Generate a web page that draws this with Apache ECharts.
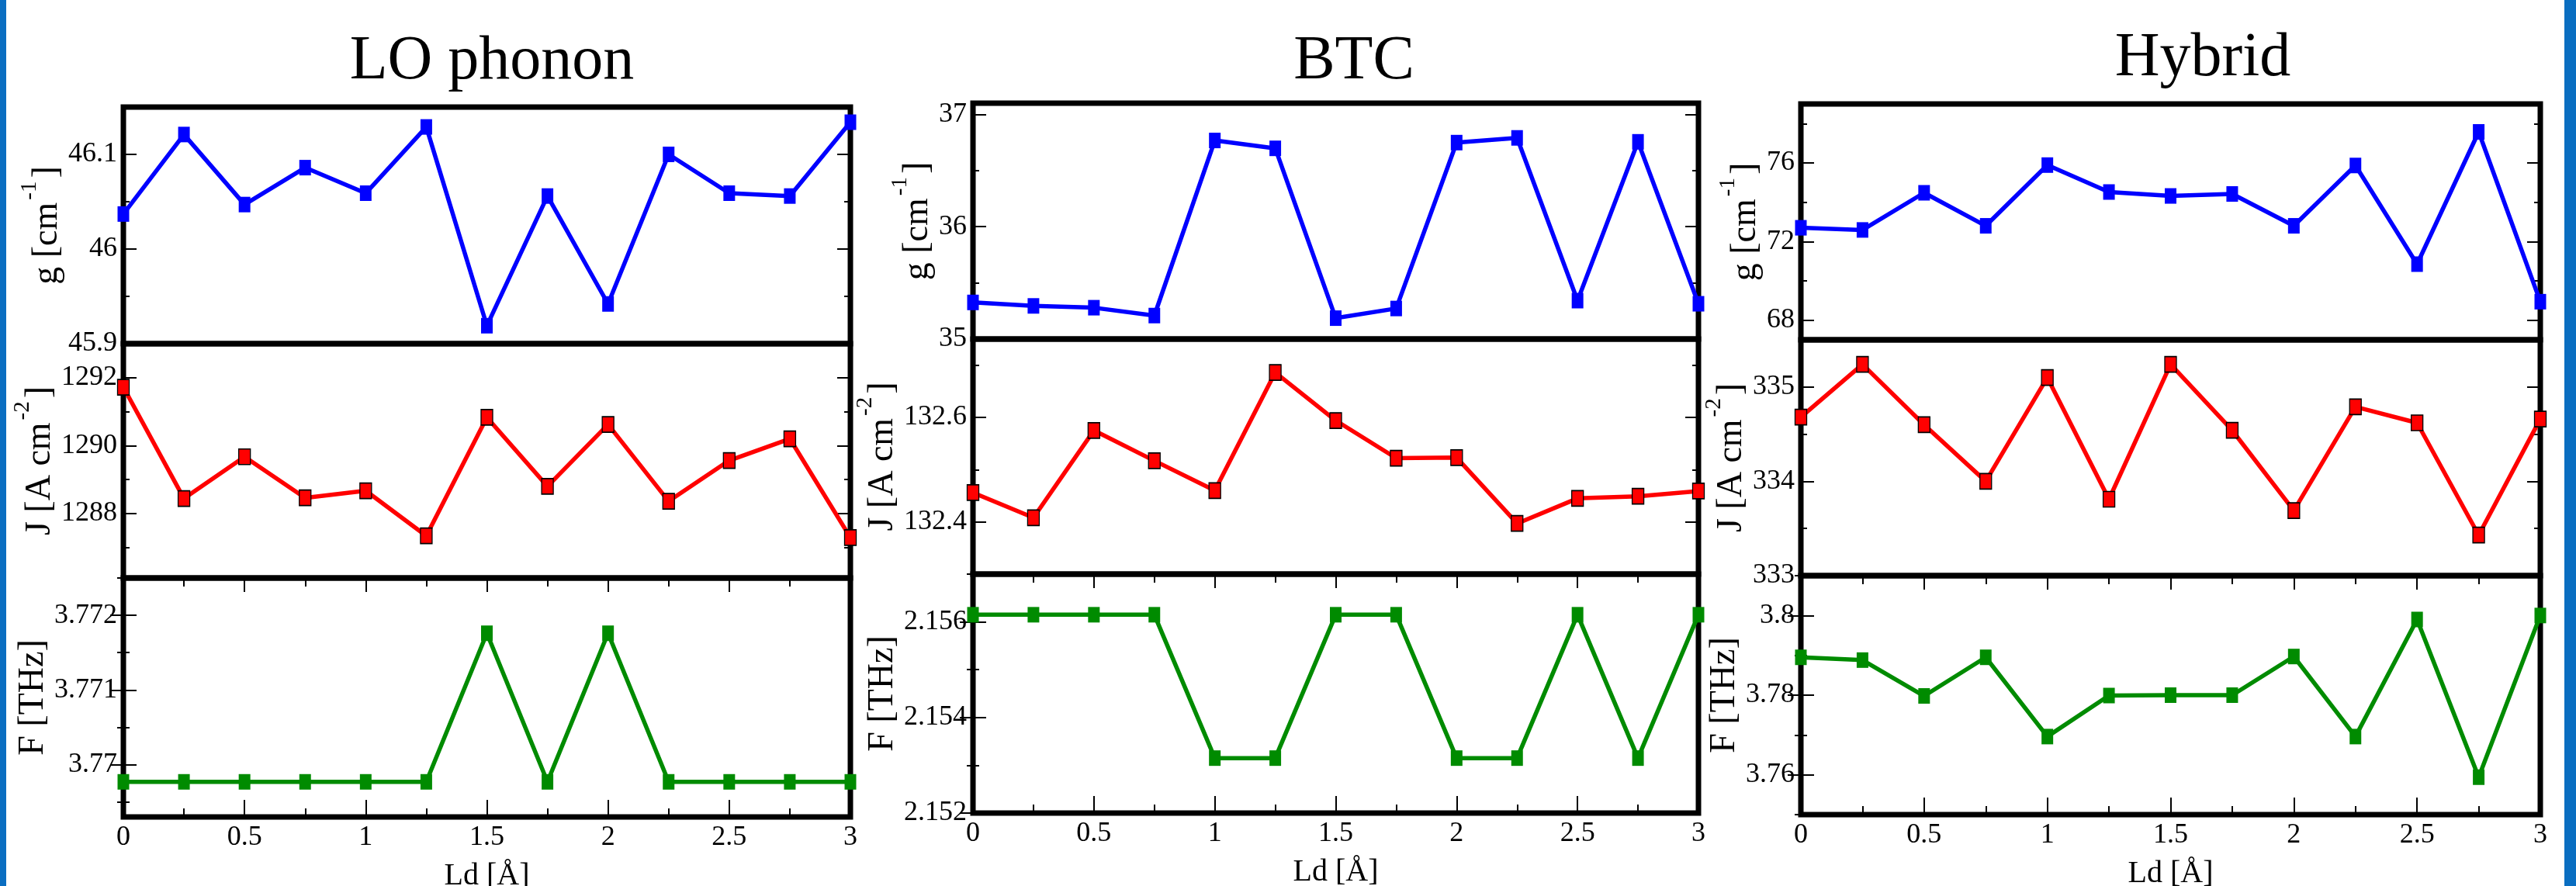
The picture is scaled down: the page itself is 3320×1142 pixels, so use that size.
<!DOCTYPE html>
<html>
<head>
<meta charset="utf-8">
<script src="https://cdn.jsdelivr.net/npm/echarts@6/dist/echarts.min.js"></script>
<style>
html,body{margin:0;padding:0;background:#fff;}
#c{width:3320px;height:1142px;}
</style>
</head>
<body>
<div id="c"></div>
<script>
// ---------------- data ----------------
const ldValues = [0, 0.25, 0.5, 0.75, 1, 1.25, 1.5, 1.75, 2, 2.25, 2.5, 2.75, 3];
const panelTitles = ['LO phonon', 'BTC', 'Hybrid'];
const xAxisName = 'Ld [Å]';
const xMajorTicks = [0, 0.5, 1, 1.5, 2, 2.5, 3];
const xMinorTicks = [0.25, 0.75, 1.25, 1.75, 2.25, 2.75];

// LO phonon
const loG = [46.037, 46.121, 46.047, 46.086, 46.059, 46.129, 45.919, 46.056, 45.942, 46.100, 46.059, 46.056, 46.134];
const loJ = [1291.72, 1288.44, 1289.67, 1288.46, 1288.67, 1287.34, 1290.83, 1288.80, 1290.62, 1288.36, 1289.56, 1290.20, 1287.29];
const loF = [3.76977, 3.76977, 3.76977, 3.76977, 3.76977, 3.76977, 3.77176, 3.76977, 3.77176, 3.76977, 3.76977, 3.76977, 3.76977];
const loGRange = [45.9, 46.15], loGMajor = [45.9, 46, 46.1], loGMinor = [45.95, 46.05, 46.15];
const loJRange = [1286.1, 1293], loJMajor = [1288, 1290, 1292], loJMinor = [1287, 1289, 1291, 1293];
const loFRange = [3.7693, 3.7725], loFMajor = [3.77, 3.771, 3.772], loFMinor = [3.7695, 3.7705, 3.7715, 3.7725];

// BTC
const btcG = [35.326, 35.295, 35.279, 35.209, 36.768, 36.698, 35.186, 35.272, 36.749, 36.791, 35.342, 36.756, 35.314];
const btcJ = [132.456, 132.408, 132.575, 132.517, 132.460, 132.686, 132.594, 132.522, 132.523, 132.397, 132.445, 132.449, 132.459];
const btcF = [2.15615, 2.15615, 2.15615, 2.15615, 2.15315, 2.15315, 2.15615, 2.15615, 2.15315, 2.15315, 2.15615, 2.15315, 2.15615];
const btcGRange = [35, 37.1], btcGMajor = [35, 36, 37], btcGMinor = [35.5, 36.5];
const btcJRange = [132.3, 132.75], btcJMajor = [132.4, 132.6], btcJMinor = [132.3, 132.5, 132.7];
const btcFRange = [2.152, 2.157], btcFMajor = [2.152, 2.154, 2.156], btcFMinor = [2.153, 2.155, 2.157];

// Hybrid
const hybG = [72.70, 72.59, 74.48, 72.80, 75.89, 74.52, 74.32, 74.42, 72.80, 75.87, 70.85, 77.58, 68.94];
const hybJ = [334.68, 335.24, 334.60, 334.00, 335.10, 333.81, 335.24, 334.54, 333.69, 334.79, 334.62, 333.43, 334.66];
const hybF = [3.7895, 3.7888, 3.7798, 3.7895, 3.7696, 3.7799, 3.7800, 3.7800, 3.7897, 3.7696, 3.7990, 3.7594, 3.8000];
const hybGRange = [67, 79], hybGMajor = [68, 72, 76], hybGMinor = [70, 74, 78];
const hybJRange = [333, 335.5], hybJMajor = [333, 334, 335], hybJMinor = [333.5, 334.5, 335.5];
const hybFRange = [3.75, 3.81], hybFMajor = [3.76, 3.78, 3.8], hybFMinor = [3.75, 3.77, 3.79, 3.81];

// axis names (rich text: superscripts)
const gName = '{n|g [cm}{s|-1}{n|]}';
const jName = '{n|J [A cm}{s|-2}{n|]}';
const fName = '{n|F [THz]}';

// ---------------- layout / style ----------------
const FONT = 'Liberation Serif';
const BLUE = '#0000ff', RED = '#ff0000', GREEN = '#008b00';
const panelLeft = [159, 1254, 2321];
const panelRight = [1096, 2189, 3274];
const rowEdges = [[138, 443, 745, 1053], [133, 437, 740, 1048], [134, 438, 742, 1050]];
const nameGaps = [[60, 69, 76], [34, 75, 75], [33, 50, 58]];
const titlePos = [[634, 80], [1745, 80], [2839, 76]];

const panels = [
  [
    {data: loG, range: loGRange, major: loGMajor, minor: loGMinor, name: gName, color: BLUE},
    {data: loJ, range: loJRange, major: loJMajor, minor: loJMinor, name: jName, color: RED},
    {data: loF, range: loFRange, major: loFMajor, minor: loFMinor, name: fName, color: GREEN}
  ],
  [
    {data: btcG, range: btcGRange, major: btcGMajor, minor: btcGMinor, name: gName, color: BLUE},
    {data: btcJ, range: btcJRange, major: btcJMajor, minor: btcJMinor, name: jName, color: RED},
    {data: btcF, range: btcFRange, major: btcFMajor, minor: btcFMinor, name: fName, color: GREEN}
  ],
  [
    {data: hybG, range: hybGRange, major: hybGMajor, minor: hybGMinor, name: gName, color: BLUE},
    {data: hybJ, range: hybJRange, major: hybJMajor, minor: hybJMinor, name: jName, color: RED},
    {data: hybF, range: hybFRange, major: hybFMajor, minor: hybFMinor, name: fName, color: GREEN}
  ]
];

const tickStyle = {color: '#000', width: 2};
const fmt = v => String(+(+v).toFixed(5));
const grids = [], xAxes = [], yAxes = [], series = [], graphics = [];

function tickAxisX(gi, pos, values, len) {
  return {
    type: 'value', gridIndex: gi, min: 0, max: 3, position: pos,
    axisLine: {show: false}, splitLine: {show: false},
    axisTick: {show: true, inside: true, length: len, customValues: values, lineStyle: tickStyle},
    axisLabel: {show: false}
  };
}
function tickAxisY(gi, pos, range, values, len) {
  return {
    type: 'value', gridIndex: gi, min: range[0], max: range[1], position: pos,
    axisLine: {show: false}, splitLine: {show: false},
    axisTick: {show: true, inside: true, length: len, customValues: values, lineStyle: tickStyle},
    axisLabel: {show: false}
  };
}

panels.forEach((rows, pi) => {
  const L = panelLeft[pi], R = panelRight[pi], E = rowEdges[pi];
  rows.forEach((r, ri) => {
    const gi = grids.length;
    grids.push({
      left: L, top: E[ri], width: R - L, height: E[ri + 1] - E[ri],
      containLabel: false, outerBoundsMode: 'none',
      show: true, borderColor: '#000', borderWidth: 7, backgroundColor: 'rgba(0,0,0,0)'
    });
    const isBottom = ri === 2;
    const xIdx = xAxes.length;
    if (isBottom) {
      xAxes.push({
        type: 'value', gridIndex: gi, min: 0, max: 3, position: 'bottom',
        axisLine: {show: false}, splitLine: {show: false},
        axisTick: {show: true, inside: true, length: 22, customValues: xMajorTicks, lineStyle: tickStyle},
        axisLabel: {show: true, customValues: xMajorTicks, formatter: fmt, fontFamily: FONT, fontSize: 36, color: '#000', margin: 9},
        name: xAxisName, nameLocation: 'middle', nameGap: 56,
        nameTextStyle: {fontFamily: FONT, fontSize: 40, color: '#000'}
      });
      xAxes.push(tickAxisX(gi, 'bottom', xMinorTicks, 11));
      xAxes.push(tickAxisX(gi, 'top', xMajorTicks, 18));
      xAxes.push(tickAxisX(gi, 'top', xMinorTicks, 11));
    } else {
      xAxes.push({
        type: 'value', gridIndex: gi, min: 0, max: 3, position: 'bottom',
        axisLine: {show: false}, splitLine: {show: false},
        axisTick: {show: false}, axisLabel: {show: false}
      });
    }
    const yIdx = yAxes.length;
    yAxes.push({
      type: 'value', gridIndex: gi, min: r.range[0], max: r.range[1], position: 'left',
      axisLine: {show: false}, splitLine: {show: false},
      axisTick: {show: true, inside: true, length: 17, customValues: r.major, lineStyle: tickStyle},
      axisLabel: {show: true, customValues: r.major, formatter: fmt, fontFamily: FONT, fontSize: 36, color: '#000', margin: 8},
      name: r.name, nameLocation: 'middle', nameRotate: 90, nameGap: nameGaps[pi][ri],
      nameTextStyle: {
        color: '#000',
        rich: {
          n: {fontFamily: FONT, fontSize: 46, lineHeight: 60, verticalAlign: 'bottom', color: '#000'},
          s: {fontFamily: FONT, fontSize: 29, lineHeight: 28, verticalAlign: 'top', color: '#000', padding: [0, 4, 0, 3]}
        }
      }
    });
    yAxes.push(tickAxisY(gi, 'left', r.range, r.minor, 8));
    yAxes.push(tickAxisY(gi, 'right', r.range, r.major, 17));
    yAxes.push(tickAxisY(gi, 'right', r.range, r.minor, 8));

    series.push({
      type: 'line', xAxisIndex: xIdx, yAxisIndex: yIdx, clip: false,
      data: ldValues.map((x, i) => [x, r.data[i]]),
      symbol: 'rect', symbolSize: [15, 20],
      lineStyle: {color: r.color, width: 5.5},
      itemStyle: r.color === RED
        ? {color: RED, borderColor: '#000', borderWidth: 1.5}
        : {color: r.color, borderWidth: 0},
      z: 5
    });
  });
  graphics.push({
    type: 'text', x: titlePos[pi][0], y: titlePos[pi][1],
    style: {
      text: panelTitles[pi], fill: '#000', font: '80px "Liberation Serif"',
      align: 'center', verticalAlign: 'middle', textAlign: 'center', textVerticalAlign: 'middle'
    }
  });
});

// blue side bars of the frame
graphics.push({type: 'rect', shape: {x: 0, y: 0, width: 8, height: 1142}, style: {fill: '#0a6ec1'}, z: 100});
graphics.push({type: 'rect', shape: {x: 3305, y: 0, width: 15, height: 1142}, style: {fill: '#0a6ec1'}, z: 100});

const chart = echarts.init(document.getElementById('c'), null, {renderer: 'canvas'});
chart.setOption({
  animation: false,
  backgroundColor: '#ffffff',
  textStyle: {fontFamily: FONT},
  grid: grids,
  xAxis: xAxes,
  yAxis: yAxes,
  series: series,
  graphic: graphics
});
</script>
</body>
</html>
